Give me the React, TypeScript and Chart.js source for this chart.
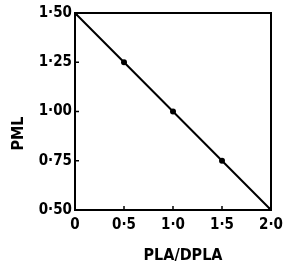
import React, { useEffect, useRef } from "react";
import { Chart, registerables } from "chart.js";

Chart.register(...registerables);

const plaRatio = [0, 0.5, 1.0, 1.5, 2.0];
const pmlValues = [1.5, 1.25, 1.0, 0.75, 0.5];
const xTickValues = [0, 0.5, 1.0, 1.5, 2.0];
const xTickLabels = ["0", "0·5", "1·0", "1·5", "2·0"];
const yTickValues = [0.5, 0.75, 1.0, 1.25, 1.5];
const yTickLabels = ["0·50", "0·75", "1·00", "1·25", "1·50"];
const xTitle = "PLA/DPLA";
const yTitle = "PML";

const FONT = "'DejaVu Sans Condensed', 'DejaVu Sans', sans-serif";

export default function App() {
  const ref = useRef<HTMLCanvasElement | null>(null);
  useEffect(() => {
    if (!ref.current) return;
    const framePlugin = {
      id: "frame",
      afterDraw(chart: any) {
        const { ctx, chartArea: a, scales } = chart;
        ctx.save();
        ctx.strokeStyle = "#000";
        ctx.lineWidth = 2;
        ctx.strokeRect(a.left, a.top, a.right - a.left, a.bottom - a.top);
        ctx.lineWidth = 1.5;
        // inward ticks
        xTickValues.forEach((v) => {
          const px = scales.x.getPixelForValue(v);
          ctx.beginPath();
          ctx.moveTo(px, a.bottom);
          ctx.lineTo(px, a.bottom - 4);
          ctx.stroke();
        });
        yTickValues.forEach((v) => {
          const py = scales.y.getPixelForValue(v);
          ctx.beginPath();
          ctx.moveTo(a.left, py);
          ctx.lineTo(a.left + 4, py);
          ctx.stroke();
        });
        // axis titles
        ctx.fillStyle = "#000";
        ctx.font = `bold 16px ${FONT}`;
        ctx.textAlign = "center";
        ctx.textBaseline = "middle";
        ctx.fillText(xTitle, (a.left + a.right) / 2 + 10, a.bottom + 46);
        ctx.translate(a.left - 56, (a.top + a.bottom) / 2 + 22);
        ctx.rotate(-Math.PI / 2);
        ctx.fillText(yTitle, 0, 0);
        ctx.restore();
      },
    };
    const chart = new Chart(ref.current, {
      type: "scatter",
      data: {
        datasets: [
          {
            data: plaRatio.map((x, i) => ({ x, y: pmlValues[i] })),
            showLine: true,
            borderColor: "#000",
            backgroundColor: "#000",
            borderWidth: 2,
            pointRadius: 3,
            pointBackgroundColor: "#000",
            pointBorderWidth: 0,
          },
        ],
      },
      options: {
        animation: false,
        responsive: false,
        events: [],
        layout: { padding: { top: 13, right: 13, left: 0, bottom: 0 } },
        plugins: { legend: { display: false }, tooltip: { enabled: false } },
        scales: {
          x: {
            type: "linear",
            min: 0,
            max: 2,
            border: { display: false },
            grid: { display: false, drawTicks: false },
            afterBuildTicks(scale: any) {
              scale.ticks = xTickValues.map((v) => ({ value: v }));
            },
            afterFit(scale: any) {
              scale.height = 58;
              scale.paddingLeft = 0;
              scale.paddingRight = 0;
            },
            ticks: {
              padding: 6,
              color: "#000",
              font: { family: FONT, size: 15, weight: "bold" },
              callback: (v: any) => {
                const i = xTickValues.indexOf(Number(v));
                return i >= 0 ? xTickLabels[i] : "";
              },
            },
          },
          y: {
            type: "linear",
            min: 0.5,
            max: 1.5,
            border: { display: false },
            grid: { display: false, drawTicks: false },
            afterBuildTicks(scale: any) {
              scale.ticks = yTickValues.map((v) => ({ value: v }));
            },
            afterFit(scale: any) {
              scale.width = 75;
              scale.paddingTop = 0;
              scale.paddingBottom = 0;
            },
            ticks: {
              padding: 3,
              color: "#000",
              font: { family: FONT, size: 15, weight: "bold" },
              callback: (v: any) => {
                const i = yTickValues.indexOf(Number(v));
                return i >= 0 ? yTickLabels[i] : "";
              },
            },
          },
        },
      },
      plugins: [framePlugin],
    });
    return () => chart.destroy();
  }, []);
  return (
    <div style={{ position: "fixed", left: 0, top: 0, width: 284, height: 268, background: "#fff" }}>
      <canvas ref={ref} width={284} height={268} style={{ width: 284, height: 268 }} />
    </div>
  );
}
